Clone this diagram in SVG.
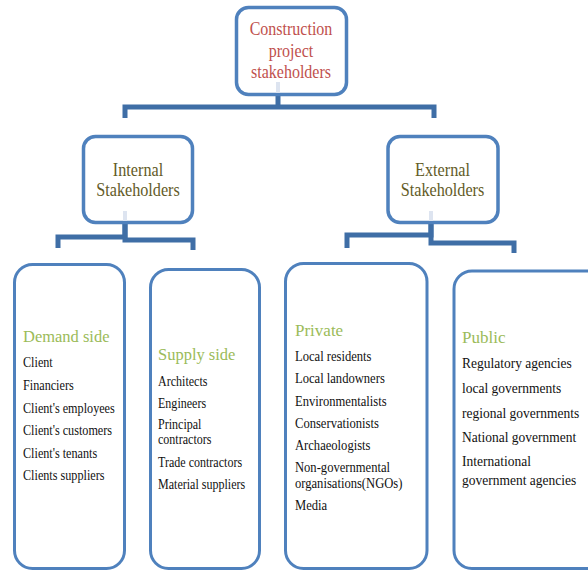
<svg xmlns="http://www.w3.org/2000/svg" width="588" height="571" viewBox="0 0 588 571">
<style>
.box{fill:#ffffff;stroke:#4f81bd;stroke-width:3.5}
.bbox{fill:#ffffff;stroke:#4f81bd;stroke-width:3}
.conn{fill:none;stroke:#3f6ea6;stroke-width:5;stroke-linejoin:miter}
.ghost{fill:none;stroke:#dde4f0;stroke-width:4}
text{font-family:"Liberation Serif","Times New Roman",serif}
.title{font-size:18px;fill:#c0504d;text-anchor:middle}
.mid{font-size:18px;fill:#635b27;text-anchor:middle}
.hdr{font-size:17px;fill:#9bbb59}
.item{font-size:14px;fill:#111111}
.pitem{font-size:15px;fill:#111111}
</style>
<rect width="588" height="571" fill="#ffffff"/>
<g id="connectors">
<path class="conn" d="M278,95 V107"/>
<path class="conn" d="M125,118 V107 H434 V118"/>
<path class="conn" d="M125,223 V237 H58 V248"/>
<path class="conn" d="M125,223 V240 H193 V250"/>
<path class="conn" d="M431,223 V235 H347 V248"/>
<path class="conn" d="M431,223 V243 H514 V253"/>
</g>
<g id="root">
<rect class="box" x="236.5" y="7.5" width="110" height="87" rx="12"/>
<line class="ghost" x1="278" y1="82" x2="278" y2="93"/>
<g transform="translate(291,0) scale(0.89,1)">
<text class="title" x="0" y="35">Construction</text>
<text class="title" x="0" y="57">project</text>
<text class="title" x="0" y="78">stakeholders</text>
</g>
</g>
<g id="internal">
<rect class="box" x="83.5" y="136.5" width="109" height="86" rx="12"/>
<line class="ghost" x1="125" y1="211" x2="125" y2="221"/>
<g transform="translate(138,0) scale(0.9,1)">
<text class="mid" x="0" y="176">Internal</text>
<text class="mid" x="0" y="196">Stakeholders</text>
</g>
</g>
<g id="external">
<rect class="box" x="388" y="136.5" width="110" height="86" rx="12"/>
<line class="ghost" x1="431" y1="211" x2="431" y2="221"/>
<g transform="translate(442.5,0) scale(0.9,1)">
<text class="mid" x="0" y="176">External</text>
<text class="mid" x="0" y="196">Stakeholders</text>
</g>
</g>
<g id="demand">
<rect class="bbox" x="14.5" y="264.5" width="110" height="304" rx="18"/>
<g transform="translate(23,0) scale(0.97,1)">
<text class="hdr" x="0" y="342.5">Demand side</text>
</g>
<g transform="translate(23,0) scale(0.87,1)">
<text class="item" x="0" y="367.5">Client</text>
<text class="item" x="0" y="390">Financiers</text>
<text class="item" x="0" y="412.7">Client's employees</text>
<text class="item" x="0" y="435.3">Client's customers</text>
<text class="item" x="0" y="457.8">Client's tenants</text>
<text class="item" x="0" y="480.4">Clients suppliers</text>
</g>
</g>
<g id="supply">
<rect class="bbox" x="150.5" y="269.5" width="109" height="299" rx="18"/>
<g transform="translate(158,0) scale(0.97,1)">
<text class="hdr" x="0" y="360.5">Supply side</text>
</g>
<g transform="translate(158,0) scale(0.86,1)">
<text class="item" x="0" y="386">Architects</text>
<text class="item" x="0" y="408.5">Engineers</text>
<text class="item" x="0" y="429.5">Principal</text>
<text class="item" x="0" y="444.5">contractors</text>
<text class="item" x="0" y="467">Trade contractors</text>
<text class="item" x="0" y="489.5">Material suppliers</text>
</g>
</g>
<g id="private">
<rect class="bbox" x="285.5" y="263.5" width="141.5" height="305" rx="18"/>
<text class="hdr" x="295" y="336">Private</text>
<g transform="translate(295,0) scale(0.9,1)">
<text class="item" x="0" y="361.5">Local residents</text>
<text class="item" x="0" y="383.5">Local landowners</text>
<text class="item" x="0" y="405.8">Environmentalists</text>
<text class="item" x="0" y="428.3">Conservationists</text>
<text class="item" x="0" y="450.5">Archaeologists</text>
<text class="item" x="0" y="472.5">Non-governmental</text>
<text class="item" x="0" y="488.5">organisations(NGOs)</text>
<text class="item" x="0" y="510.5">Media</text>
</g>
</g>
<g id="public">
<rect class="bbox" x="454" y="271" width="160" height="297.5" rx="18"/>
<text class="hdr" x="462" y="342.5">Public</text>
<g transform="translate(462,0) scale(0.9,1)">
<text class="pitem" x="0" y="368.5">Regulatory agencies</text>
<text class="pitem" x="0" y="393.3">local governments</text>
<text class="pitem" x="0" y="418">regional governments</text>
<text class="pitem" x="0" y="442.5">National government</text>
<text class="pitem" x="0" y="466.5">International</text>
<text class="pitem" x="0" y="485.5">government agencies</text>
</g>
</g>
</svg>
